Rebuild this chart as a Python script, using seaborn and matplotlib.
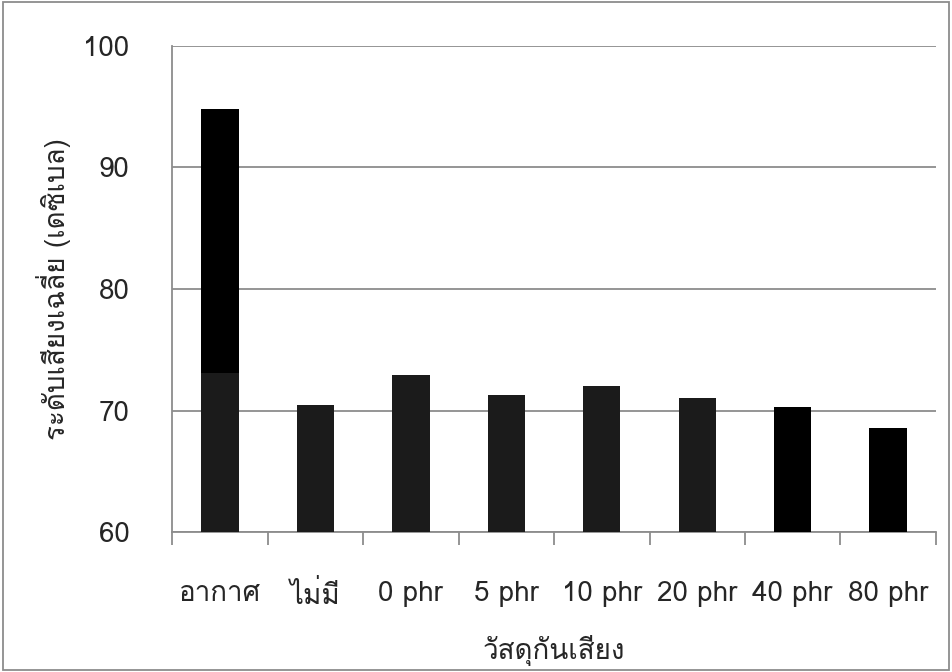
import matplotlib
matplotlib.use("Agg")
import matplotlib.pyplot as plt
from matplotlib import font_manager
from matplotlib.ft2font import FT2Font
import seaborn as sns
import pandas as pd
import numpy as np

categories = ["อากาศ", "ไม่มี", "0 phr", "5 phr", "10 phr", "20 phr", "40 phr", "80 phr"]
total_values = [94.8, 70.5, 72.9, 71.3, 72.0, 71.0, 70.3, 68.6]
front_values = [73.1, 70.5, 72.9, 71.3, 72.0, 71.0, np.nan, np.nan]

# find a font with Thai coverage
thai_font = None
for f in font_manager.fontManager.ttflist:
    try:
        cm = FT2Font(f.fname).get_charmap()
        if ord("ก") in cm and ord("ศ") in cm:
            thai_font = f.name
            break
    except Exception:
        pass

sns.set_theme(style="white")
fams = ["DejaVu Sans"]
if thai_font:
    fams = [thai_font, "DejaVu Sans"]
plt.rcParams["font.family"] = fams

fig = plt.figure(figsize=(9.52, 6.72), dpi=100)
ax = fig.add_axes([0.181, 0.208, 0.802, 0.724])

df_back = pd.DataFrame({"cat": categories, "val": total_values})
df_front = pd.DataFrame({"cat": categories, "val": front_values})

sns.barplot(data=df_back, x="cat", y="val", color="#000000", width=0.39,
            saturation=1, ax=ax, zorder=3)
sns.barplot(data=df_front, x="cat", y="val", color="#1b1b1b", width=0.39,
            saturation=1, ax=ax, zorder=4)
for p in ax.patches:
    p.set_edgecolor("none")

ax.set_ylim(60, 100)
ax.set_xlim(-0.5, 7.5)
ax.set_yticks([60, 70, 80, 90, 100])
ax.yaxis.grid(True, color="#8c8c8c", linewidth=1.3, zorder=0)
ax.set_axisbelow(True)

for s in ["top", "right"]:
    ax.spines[s].set_visible(False)
for s in ["left", "bottom"]:
    ax.spines[s].set_color("#8c8c8c")
    ax.spines[s].set_linewidth(1.3)

ax.set_xticks(np.arange(len(categories)))
ax.set_xticklabels(categories)
ax.set_xticks(np.arange(-0.5, len(categories), 1.0), minor=True)
ax.tick_params(axis="x", which="major", length=0, pad=35, labelsize=20)
ax.tick_params(axis="x", which="minor", length=9, width=1.3, color="#8c8c8c", direction="out")
ax.tick_params(axis="y", length=9, width=1.3, color="#8c8c8c", direction="out",
               labelsize=20, pad=22)
ax.tick_params(axis="x", bottom=True, which="both")

ax.set_xlabel("วัสดุกันเสียง", fontsize=20, labelpad=18)
ax.set_ylabel("ระดับเสียงเฉลี่ย (เดซิเบล)", fontsize=20, labelpad=9)

fig.patches.append(plt.Rectangle((0.003, 0.003), 0.994, 0.994, transform=fig.transFigure,
                                 fill=False, edgecolor="#8c8c8c", linewidth=1.3))

fig.savefig("out.png", dpi=100)
